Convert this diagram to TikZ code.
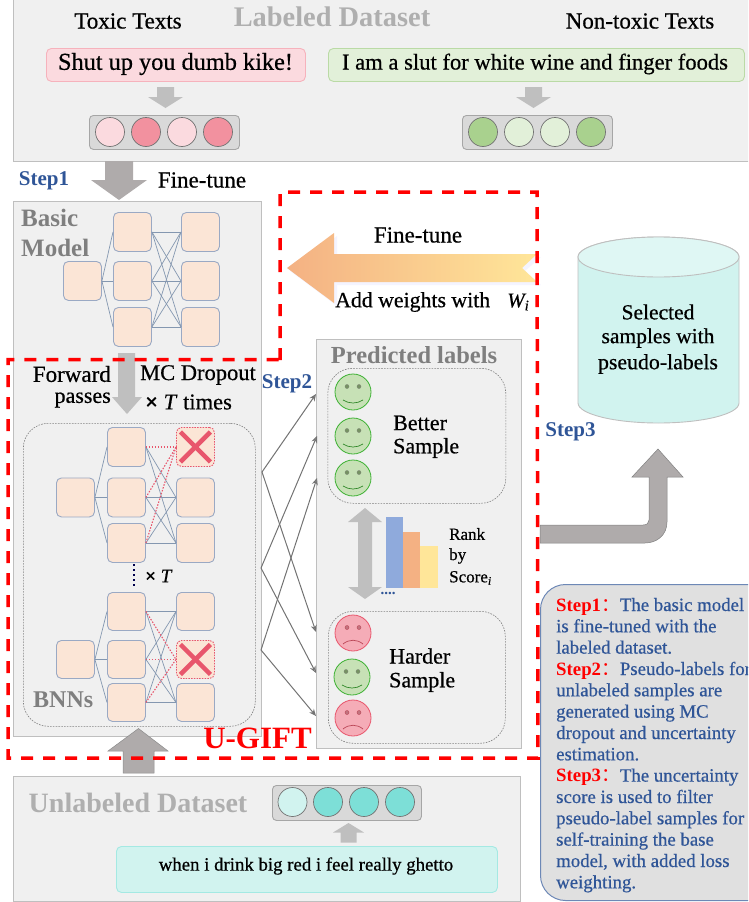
\documentclass[tikz,border=0pt]{standalone}
\usepackage{fontspec}
\setmainfont{Liberation Serif}[FakeBold=0.55]
\newfontfamily\heavy{Liberation Serif Bold}
\newfontfamily\cjk{Noto Sans CJK SC}
\newcommand{\fs}[1]{\fontsize{#1}{#1}\selectfont}
\definecolor{panelfill}{HTML}{F0F0F0}
\definecolor{paneledge}{HTML}{BFBFBF}
\definecolor{pinkl}{HTML}{FBDADF}
\definecolor{pinkd}{HTML}{F2919F}
\definecolor{greenl}{HTML}{E2F0D9}
\definecolor{greend}{HTML}{A9D18E}
\definecolor{tealx}{HTML}{D1F3EF}
\definecolor{teald}{HTML}{7DDFD7}
\definecolor{sqfill}{HTML}{FBE5D6}
\definecolor{sqedge}{HTML}{9AA9C4}
\definecolor{netline}{HTML}{8497B0}
\definecolor{dropred}{HTML}{E8566C}
\definecolor{stepblue}{HTML}{2F5597}
\definecolor{arrowlight}{HTML}{BFBFBF}
\definecolor{arrowdark}{HTML}{AFABAB}
\definecolor{titlegray}{HTML}{AFAFAF}
\definecolor{titledark}{HTML}{7F7F7F}
\definecolor{barb}{HTML}{8FAADC}
\definecolor{baro}{HTML}{F4B183}
\definecolor{bary}{HTML}{FFE699}
\usetikzlibrary{arrows.meta}
\tikzset{
  panel/.style={draw=paneledge,fill=panelfill,line width=.9pt},
  sq/.style={draw=sqedge,fill=sqfill,rounded corners=5pt,line width=.9pt,inner sep=0pt,minimum width=38pt,minimum height=39pt,anchor=north west},
  xsq/.style={sq,draw=dropred,dash pattern=on 1.5pt off 1.2pt},
  net/.style={draw=netline,line width=.7pt},
  drop/.style={draw=dropred,line width=1.1pt,dash pattern=on 1.5pt off 1.5pt},
  txt/.style={inner sep=0pt,text=black,font=\fs{23}},
  steplabel/.style={inner sep=0pt,text=stepblue,font=\heavy\fs{21}},
  textbox/.style={rounded corners=5pt,line width=.9pt,inner sep=0pt,anchor=north west},
  embed/.style={draw=black!35,fill=black!15,rounded corners=4pt,line width=.9pt,minimum width=150pt,minimum height=34pt,inner sep=0pt,anchor=north west},
  dot/.style={circle,draw=black!55,line width=.7pt,minimum size=29pt,inner sep=0pt},
  dashbox/.style={draw=black!50,line width=.6pt,dash pattern=on 1.6pt off 1.2pt,rounded corners=25pt,inner sep=0pt,anchor=north west},
  thinarrow/.style={draw=black!55,line width=1pt,-{Stealth[length=7pt,width=6pt,open]}},
  redloop/.style={draw=red,line width=3.5pt,dash pattern=on 12pt off 10pt},
}
\newcommand{\happy}[3]{%
  \node[circle,draw=greend!60!black!60!green,fill=greend!65,minimum size=36pt,inner sep=0pt,line width=.8pt] (#1) at (#2,#3) {};
  \fill[fill=greend!70!black,draw=greend!40!black!70] (#2-6,#3-5.5) circle (2pt) (#2+6,#3-5.5) circle (2pt);
  \draw[greend!40!black!70!green,line width=.7pt] (#2-10,#3+8) .. controls (#2-4,#3+12) and (#2+4,#3+12) .. (#2+10,#3+8);
}
\newcommand{\sad}[3]{%
  \node[circle,draw=dropred,fill=pinkd!75,minimum size=36pt,inner sep=0pt,line width=.8pt] (#1) at (#2,#3) {};
  \fill[fill=pinkd!80!black,draw=dropred!80!black] (#2-6,#3-5.5) circle (2pt) (#2+6,#3-5.5) circle (2pt);
  \draw[dropred!80!black,line width=.7pt] (#2-10,#3+11) .. controls (#2-4,#3+6) and (#2+4,#3+6) .. (#2+10,#3+11);
}
\newcommand{\noteline}[3]{\node[inner sep=0pt,anchor=base west,text=stepblue,font=\fs{18.8}] (#1) at (556,#2) {#3};}
\newcommand{\stp}[1]{\textcolor{red}{{\heavy #1}{\cjk ：}}}
\begin{document}
\begin{tikzpicture}[x=1pt,y=-1pt]
\useasboundingbox (0,0) rectangle (748,902);
\clip (0,0) rectangle (748,902);

% ===== Top panel
\node[panel,anchor=north west,minimum width=740pt,minimum height=162pt,inner sep=0pt] (labeled) at (13,-1) {};
\node[inner sep=0pt,text=titlegray,font=\heavy\fs{28.4}] (labeledT) at (332,17) {Labeled Dataset};
\node[txt] (toxicT) at (128,21) {Toxic Texts};
\node[txt] (nontoxicT) at (640,21) {Non-toxic Texts};
\node[textbox,draw=pinkd!70,fill=pinkl,minimum width=259pt,minimum height=33pt] (toxbox) at (46,48) {};
\node[txt,font=\fs{24.3}] (toxtext) at (175.5,64) {Shut up you dumb kike!};
\node[textbox,draw=greend!80,fill=greenl,minimum width=416pt,minimum height=33pt] (nonbox) at (328,48) {};
\node[txt,font=\fs{22.6}] (nontext) at (535,64) {I am a slut for white wine and finger foods};
\fill[arrowlight] (157,87)--(174,87)--(174,97)--(183,97)--(165.5,108)--(148,97)--(157,97)--cycle;
\fill[arrowlight] (525,87)--(542,87)--(542,97)--(551,97)--(533.5,108)--(516,97)--(525,97)--cycle;
\node[embed] (tEmb) at (89,115) {};
\node[dot,fill=pinkl] (t1) at (110,132) {};
\node[dot,fill=pinkd] (t2) at (146,132) {};
\node[dot,fill=pinkl] (t3) at (182,132) {};
\node[dot,fill=pinkd] (t4) at (218,132) {};
\node[embed] (nEmb) at (462,115) {};
\node[dot,fill=greend] (n1) at (483,132) {};
\node[dot,fill=greenl] (n2) at (519,132) {};
\node[dot,fill=greenl] (n3) at (555,132) {};
\node[dot,fill=greend] (n4) at (591,132) {};

% ===== Step 1 arrow
\fill[arrowdark] (105,161)--(133,161)--(133,180)--(147,180)--(119,200)--(91,180)--(105,180)--cycle;
\node[steplabel] (step1) at (44,181) {Step1};
\node[txt] (ft1) at (202,180) {Fine-tune};

% ===== Basic model panel
\node[panel,anchor=north west,minimum width=248pt,minimum height=535pt,inner sep=0pt] (basic) at (13,200.5) {};
\node[inner sep=0pt,text=titledark,font=\heavy\fs{25},anchor=west] (basicT) at (21,218) {Basic};
\node[inner sep=0pt,text=titledark,font=\heavy\fs{25},anchor=west] (modelT) at (21,248) {Model};
\node[sq] (i0) at (63,261) {};
\node[sq] (a1) at (113,212) {};
\node[sq] (a2) at (113,261) {};
\node[sq] (a3) at (113,307) {};
\node[sq] (b1) at (181,212) {};
\node[sq] (b2) at (181,261) {};
\node[sq] (b3) at (181,307) {};
\foreach \m in {a1,a2,a3} \draw[net] (i0.east) -- (\m.west);
\foreach \m in {a1,a2,a3} \foreach \n in {b1,b2,b3} \draw[net] (\m.east) -- (\n.west);

% ===== Forward arrow
\fill[arrowlight] (118,353)--(135,353)--(135,397)--(142,397)--(127,414)--(112,397)--(118,397)--cycle;
\node[txt,font=\fs{23},anchor=east] (fwd) at (111,374) {Forward};
\node[txt,font=\fs{22},anchor=east] (pas) at (111,400) {passes};
\node[txt,font=\fs{22.5},anchor=west] (mcd) at (140,375) {MC Dropout};
\node[txt,font=\fs{22.5},anchor=west] (mct) at (145,402) {\textbf{×} \textit{T} times};

% ===== BNN box
\node[dashbox,minimum width=232pt,minimum height=303pt] (bnn) at (23,423) {};
\node[inner sep=0pt,text=titledark,font=\heavy\fs{24},anchor=west] (bnnT) at (33,700) {BNNs};
% upper net
\node[sq] (ui) at (56,477.5) {};
\node[sq] (um1) at (107,427) {};
\node[sq] (um2) at (107,477.5) {};
\node[sq] (um3) at (107,523) {};
\node[xsq] (ux) at (176,427) {};
\node[sq] (ur2) at (176,477.5) {};
\node[sq] (ur3) at (176,523) {};
\foreach \m in {um1,um2,um3} \draw[net] (ui.east) -- (\m.west);
\foreach \m in {um1,um2,um3} \foreach \n in {ur2,ur3} \draw[net] (\m.east) -- (\n.west);
\foreach \m in {um1,um2,um3} \draw[drop] (\m.east) -- (ux.west);
\draw[dropred,line width=4.5pt] (ux.center)+(-15,-15) -- +(15,15);
\draw[dropred,line width=4.5pt] (ux.center)+(15,-15) -- +(-15,15);
% lower net
\node[sq,minimum height=38pt] (li) at (56,640) {};
\node[sq,minimum height=38pt] (lm1) at (107,592) {};
\node[sq,minimum height=38pt] (lm2) at (107,640) {};
\node[sq,minimum height=38pt] (lm3) at (107,683) {};
\node[sq,minimum height=38pt] (lr1) at (176,592) {};
\node[xsq,minimum height=38pt] (lx) at (176,640) {};
\node[sq,minimum height=38pt] (lr3) at (176,683) {};
\foreach \m in {lm1,lm2,lm3} \draw[net] (li.east) -- (\m.west);
\foreach \m in {lm1,lm2,lm3} \foreach \n in {lr1,lr3} \draw[net] (\m.east) -- (\n.west);
\foreach \m in {lm1,lm2,lm3} \draw[drop] (\m.east) -- (lx.west);
\draw[dropred,line width=4.5pt] (lx.center)+(-15,-15) -- +(15,15);
\draw[dropred,line width=4.5pt] (lx.center)+(15,-15) -- +(-15,15);
\draw[draw=black!70!blue,line width=1.5pt,dash pattern=on 1.5pt off 3.5pt] (134,564) -- (134,589);
\node[txt,font=\fs{19},anchor=west] (xt) at (145,576) {\textbf{×} \textit{T}};

% ===== Predicted labels panel
\node[panel,anchor=north west,minimum width=205pt,minimum height=409pt,inner sep=0pt] (pred) at (316,339) {};
\node[inner sep=0pt,text=titledark,font=\heavy\fs{24.5}] (predT) at (414,355) {Predicted labels};
\node[dashbox,minimum width=178pt,minimum height=135pt] (better) at (327.5,368) {};
\node[dashbox,minimum width=177pt,minimum height=132pt] (harder) at (328,611) {};
\happy{g1}{353}{392}
\happy{g2}{353}{436}
\happy{g3}{353}{478}
\sad{r1}{353}{633}
\happy{g4}{352}{677}
\sad{r2}{353}{718}
\node[txt,font=\fs{22},anchor=west] (betterT) at (393,423) {Better};
\node[txt,font=\fs{22},anchor=west] (betterS) at (393,448) {Sample};
\node[txt,font=\fs{22},anchor=west] (harderT) at (389,656) {Harder};
\node[txt,font=\fs{22},anchor=west] (harderS) at (389,682) {Sample};
\fill[arrowlight] (365,508)--(382,522)--(372,522)--(372,587)--(382,587)--(365,599)--(348,587)--(358,587)--(358,522)--(348,522)--cycle;
\fill[barb] (386,517) rectangle (403,588);
\fill[baro] (403,532) rectangle (420,588);
\fill[bary] (420,546) rectangle (437.5,588);
\node[inner sep=0pt,text=stepblue,font=\heavy\fs{15}] (dots) at (388,593) {....};
\node[txt,font=\fs{17},anchor=west] (rank1) at (449,534) {Rank};
\node[txt,font=\fs{17},anchor=west] (rank2) at (449,556) {by};
\node[txt,font=\fs{17},anchor=west] (rank3) at (449,578) {Score\textsubscript{\textit{i}}};

% ===== Thin arrows
\coordinate (s1) at (262,472);
\coordinate (s2) at (261,568);
\coordinate (s3) at (261,650);
\coordinate (d1) at (316,394);
\coordinate (d2) at (317,436);
\coordinate (d3) at (317,478);
\coordinate (d4) at (316,632);
\coordinate (d5) at (316,673);
\coordinate (d6) at (316,716);
\draw[thinarrow] (s1) -- (d1);
\draw[thinarrow] (s1) -- (d4);
\draw[thinarrow] (s2) -- (d2);
\draw[thinarrow] (s2) -- (d5);
\draw[thinarrow] (s3) -- (d3);
\draw[thinarrow] (s3) -- (d6);
\node[steplabel] (step2) at (287,384) {Step2};

% ===== Fine-tune gradient arrow
\fill[blue!30!white,opacity=.15] (290,271)--(337,236)--(337,257)--(541,257)--(525,271)--(541,285)--(337,285)--(337,306)--cycle;
\shade[left color=baro,right color=bary] (287,268)--(334,233)--(334,254)--(537,254)--(522,268)--(537,282)--(334,282)--(334,303)--cycle;
\node[txt] (ft2) at (418,235) {Fine-tune};
\node[txt,font=\fs{21.8},anchor=west] (aw) at (335,302) {Add weights with};
\node[txt,font=\fs{21},anchor=west] (wi) at (507,302) {\textit{W\textsubscript{i}}};

% ===== Cylinder
\path[fill=tealx,draw=paneledge,line width=.9pt] (578,257) -- (578,403) arc[start angle=180,end angle=360,x radius=80.5,y radius=-20] -- (739,257) arc[start angle=0,end angle=180,x radius=80.5,y radius=-20] -- cycle;
\path[fill=tealx!70!white,draw=paneledge,line width=.9pt] (658.5,257) ellipse [x radius=80.5,y radius=20];
\node[txt,font=\fs{21.5}] (selA) at (658,312) {Selected};
\node[txt,font=\fs{21.5}] (selB) at (658,338) {samples with};
\node[txt,font=\fs{21.8}] (selC) at (658,364) {pseudo-labels};
\node[steplabel] (step3) at (570.5,431.5) {Step3};

% ===== Step 3 arrow
\path[fill=arrowdark,draw=black!50,line width=.5pt] (540,525)--(643,525) .. controls (647,525) and (649,523) .. (649,520) --(649,477)--(632,477)--(658,449)--(683,477)--(667,477)--(667,522) .. controls (667,535) and (657,543) .. (645,543) --(540,543)--cycle;

% ===== Bottom up arrow (overlaps BNN panel)
\path[fill=arrowdark,draw=black!45,line width=.5pt] (123,773)--(154,773)--(154,751)--(168,751)--(138.5,728.5)--(108,751)--(123,751)--cycle;

% ===== Unlabeled panel
\node[panel,anchor=north west,minimum width=507pt,minimum height=125pt,inner sep=0pt] (unl) at (13,776) {};
\node[inner sep=0pt,text=titlegray,font=\heavy\fs{28}] (unlT) at (138,803) {Unlabeled Dataset};
\node[embed,minimum width=149pt,minimum height=35pt] (uEmb) at (272,785) {};
\node[dot,fill=tealx] (c1) at (292.5,802) {};
\node[dot,fill=teald] (c2) at (328,802) {};
\node[dot,fill=teald] (c3) at (364,802) {};
\node[dot,fill=teald] (c4) at (400,802) {};
\fill[arrowlight] (340.5,842.5)--(356.5,842.5)--(356.5,832.5)--(364,832.5)--(348.5,823)--(333,832.5)--(340.5,832.5)--cycle;
\node[textbox,draw=teald!70,fill=tealx,minimum width=381pt,minimum height=46pt] (unlbox) at (116,846) {};
\node[txt,font=\fs{18.8}] (unltext) at (306,866) {when i drink big red i feel really ghetto};

% ===== Note box
\node[draw=stepblue!70!white,fill=black!12,rounded corners=25pt,line width=1pt,anchor=north west,minimum width=260pt,minimum height=316pt,inner sep=0pt] (note) at (540,584) {};
\noteline{nl1}{611}{\stp{Step1}The basic model}
\noteline{nl2}{632.3}{is fine-tuned with the}
\noteline{nl3}{653.6}{labeled dataset.}
\noteline{nl4}{675}{\stp{Step2}Pseudo-labels for}
\noteline{nl5}{696.3}{unlabeled samples are}
\noteline{nl6}{717.6}{generated using MC}
\noteline{nl7}{739}{dropout and uncertainty}
\noteline{nl8}{760.3}{estimation.}
\noteline{nl9}{781.6}{\stp{Step3}The uncertainty}
\noteline{nl10}{803}{score is used to filter}
\noteline{nl11}{824.3}{pseudo-label samples for}
\noteline{nl12}{845.6}{self-training the base}
\noteline{nl13}{867}{model, with added loss}
\noteline{nl14}{888.3}{weighting.}

% ===== Red dashed region
\draw[redloop] (280,360) -- (280,192) -- (537,192) -- (538,758) -- (8,758) -- (8,359.5) -- (280,359.5);
\node[inner sep=0pt,text=red,font=\heavy\fs{31}] (ugift) at (257.5,738) {U-GIFT};
\end{tikzpicture}
\end{document}
